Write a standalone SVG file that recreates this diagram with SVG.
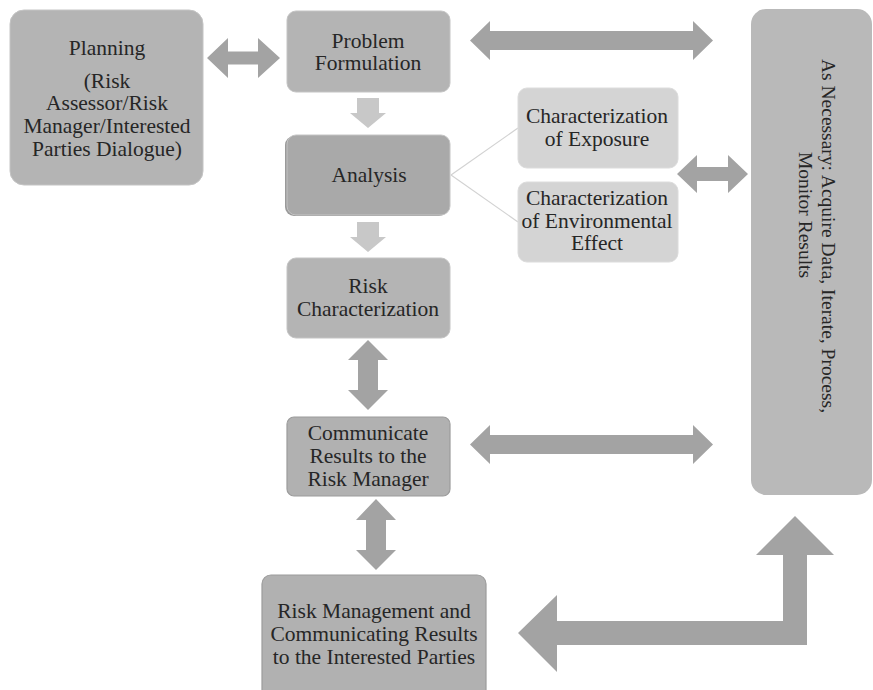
<svg xmlns="http://www.w3.org/2000/svg" width="873" height="690" viewBox="0 0 873 690">
  <style>
    .lbl { font-family: "Liberation Serif", "Times New Roman", serif; font-size: 21.5px; fill: #262626; text-anchor: middle; }
    .side { font-size: 19.5px; }
    .box { fill: #b4b4b4; stroke: #c4c4c4; stroke-width: 1; }
    .dark { fill: #a9a9a9; }
    .light { fill: #d4d4d4; stroke: #dcdcdc; }
    .edged { fill: #b1b1b1; stroke: #9c9c9c; stroke-width: 1.2; }
    .arrow { fill: #a3a3a3; }
    .arrow-lt { fill: #c8c8c8; }
    .link { stroke: #d2d2d2; stroke-width: 1.2; fill: none; }
  </style>
  <rect width="873" height="690" fill="#ffffff"/>

  <!-- connectors -->
  <g id="connectors">
    <line class="link" x1="451" y1="175" x2="518" y2="128"/>
    <line class="link" x1="451" y1="175" x2="518" y2="222"/>
    <!-- Planning <-> Problem Formulation -->
    <polygon class="arrow" points="207,58 228,38 228,51.5 258,51.5 258,38 280,58 258,78 258,64.5 228,64.5 228,78"/>
    <!-- Problem Formulation <-> side box -->
    <polygon class="arrow" points="470,40.5 490,21 490,31 693,31 693,21 713,40.5 693,60 693,50 490,50 490,60"/>
    <!-- characterizations <-> side box -->
    <polygon class="arrow" points="677,174 697,155 697,167 728,167 728,155 748,174 728,193 728,181 697,181 697,193"/>
    <!-- Communicate <-> side box -->
    <polygon class="arrow" points="470,444.5 490,425 490,435 693,435 693,425 713,444.5 693,464 693,454 490,454 490,464"/>
    <!-- downward flow -->
    <polygon class="arrow-lt" points="357,98 379,98 379,113 386,113 368,128 350,113 357,113"/>
    <polygon class="arrow-lt" points="357,222 379,222 379,237 386,237 368,252 350,237 357,237"/>
    <!-- Risk Characterization <-> Communicate -->
    <polygon class="arrow" points="368,340 388,360 378,360 378,390 388,390 368,410 348,390 358,390 358,360 348,360"/>
    <!-- Communicate <-> Risk Management -->
    <polygon class="arrow" points="376,499 396,520 386,520 386,550 396,550 376,570 356,550 366,550 366,520 356,520"/>
    <!-- Risk Management <-> side box (elbow) -->
    <polygon class="arrow" points="518,633 557,595 557,621 783,621 783,555 756,555 795,516 834,555 807,555 807,645 557,645 557,672"/>
  </g>

  <g id="planning">
    <rect class="box" x="10" y="10" width="193" height="175" rx="14"/>
    <text class="lbl" x="107" y="55">Planning</text>
    <text class="lbl" x="107" y="88">(Risk</text>
    <text class="lbl" x="107" y="110">Assessor/Risk</text>
    <text class="lbl" x="107" y="133">Manager/Interested</text>
    <text class="lbl" x="107" y="156">Parties Dialogue)</text>
  </g>

  <g id="problem-formulation">
    <rect class="box" x="287" y="11" width="163" height="81" rx="9"/>
    <text class="lbl" x="368" y="48">Problem</text>
    <text class="lbl" x="368" y="70">Formulation</text>
  </g>

  <g id="analysis">
    <rect x="285" y="136" width="163" height="80" rx="9" fill="#9a9a9a"/>
    <rect class="box dark" x="287" y="135" width="163" height="80" rx="9"/>
    <text class="lbl" x="369" y="182">Analysis</text>
  </g>

  <g id="exposure">
    <rect class="light" x="518" y="88" width="160" height="80" rx="9"/>
    <text class="lbl" x="597" y="123">Characterization</text>
    <text class="lbl" x="597" y="146">of Exposure</text>
  </g>

  <g id="effect">
    <rect class="light" x="518" y="182" width="160" height="80" rx="9"/>
    <text class="lbl" x="597" y="205">Characterization</text>
    <text class="lbl" x="597" y="228">of Environmental</text>
    <text class="lbl" x="597" y="250">Effect</text>
  </g>

  <g id="risk-characterization">
    <rect class="box" x="287" y="258" width="163" height="80" rx="9"/>
    <text class="lbl" x="368" y="293">Risk</text>
    <text class="lbl" x="368" y="316">Characterization</text>
  </g>

  <g id="communicate">
    <rect class="edged" x="287" y="417" width="163" height="79" rx="7"/>
    <text class="lbl" x="368" y="440">Communicate</text>
    <text class="lbl" x="368" y="463">Results to the</text>
    <text class="lbl" x="368" y="486">Risk Manager</text>
  </g>

  <g id="risk-management">
    <rect class="edged" x="262" y="575" width="224" height="125" rx="9"/>
    <text class="lbl" x="374" y="618">Risk Management and</text>
    <text class="lbl" x="374" y="641">Communicating Results</text>
    <text class="lbl" x="374" y="664">to the Interested Parties</text>
  </g>

  <g id="iterate">
    <rect x="751" y="9" width="121" height="486" rx="15" fill="#b9b9b9"/>
    <text class="lbl side" transform="translate(822,236) rotate(90)">As Necessary: Acquire Data, Iterate, Process,</text>
    <text class="lbl side" transform="translate(799,215) rotate(90)">Monitor Results</text>
  </g>
</svg>
